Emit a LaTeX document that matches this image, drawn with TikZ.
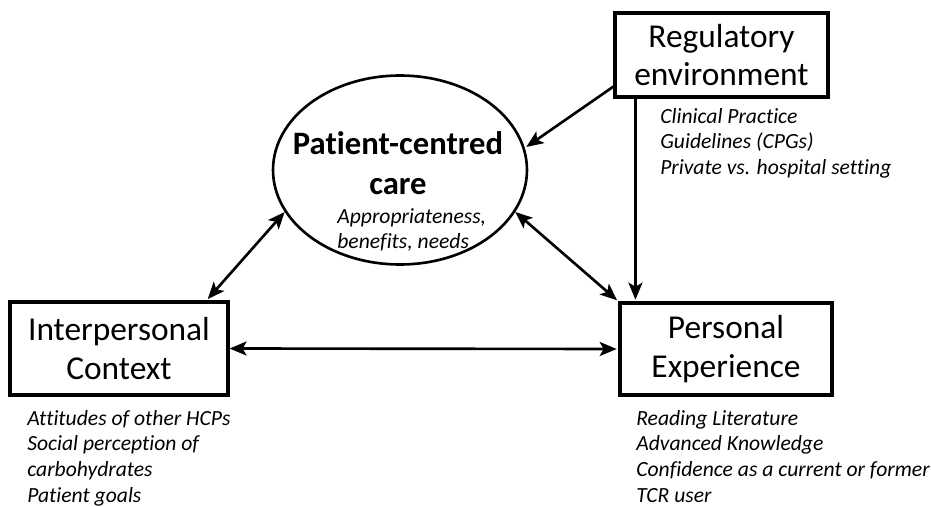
\documentclass[tikz,border=0pt]{standalone}
\usepackage{fontspec}
\setmainfont[Ligatures={NoCommon,NoContextual}]{Carlito}
\usetikzlibrary{arrows.meta, shapes.geometric, positioning}

\begin{document}
\begin{tikzpicture}[x=0.02cm, y=-0.02cm, >={Stealth[length=3.4mm, width=2.8mm, inset=0.8mm]},
  shorten >=1pt, line width=1.5pt,
  box/.style={draw, rectangle, line width=1.8pt, align=center, inner sep=0pt,
              font=\fontsize{19}{22}\selectfont},
  notes/.style={anchor=north west, align=left, inner sep=0pt,
                font=\fontsize{12.3}{14.6}\selectfont\itshape}]
  \useasboundingbox (0,0) rectangle (931,507);

  \node[draw, ellipse, minimum width=5.08cm, minimum height=3.78cm] (pcc) at (400,170) {};
  \node[align=center, font=\fontsize{18.6}{22.8}\selectfont\bfseries] (pcctitle) at (398,163) {Patient-centred\\care};
  \node[notes, anchor=west] (pccnotes) at (336,230) {Appropriateness,\\benefits, needs};

  \node[box, minimum width=4.26cm, minimum height=1.68cm] (reg)   at (721.5,55)  {Regulatory\\environment};
  \node[box, minimum width=4.36cm, minimum height=1.86cm] (inter) at (119,348.5) {Interpersonal\\Context};
  \node[box, minimum width=4.24cm, minimum height=1.84cm] (pers)  at (726,349)   {Personal\\Experience};

  \node[notes] (regnotes)   at (659,107) {Clinical Practice\\Guidelines (CPGs)\\Private vs. hospital setting};
  \node[notes] (internotes) at (26,409)  {Attitudes of other HCPs\\Social perception of\\carbohydrates\\Patient goals};
  \node[notes] (persnotes)  at (635,409) {Reading Literature\\Advanced Knowledge\\Confidence as a current or former\\TCR user};

  \draw[->]  ([yshift=0.24cm]reg.south west) -- (pcc.10);
  \draw[->]  ([xshift=0.44cm]reg.south west) -- ([xshift=0.44cm]reg.south west |- pers.north);
  \draw[<->] (pcc.200) -- ([xshift=-0.46cm]inter.north east);
  \draw[<->] (pcc.340) -- (pers.north west);
  \draw[<->] (inter.east) -- (pers.west);
\end{tikzpicture}
\end{document}
